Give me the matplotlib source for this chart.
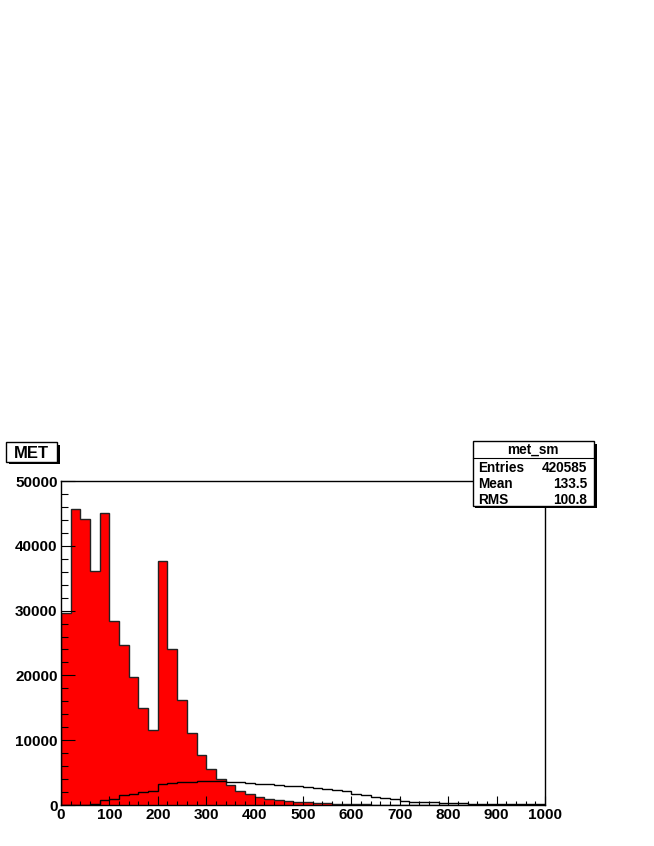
import numpy as np
import matplotlib
matplotlib.use('Agg')
import matplotlib.pyplot as plt
from matplotlib.patches import Rectangle

matplotlib.rcParams['font.family'] = ['Liberation Sans', 'DejaVu Sans']
matplotlib.rcParams['font.weight'] = 'bold'

# bin edges (20 GeV bins from 0 to 1000)
bin_edges = np.arange(0, 1001, 20)

# red filled histogram (met_sm)
met_sm = [29700, 45700, 44100, 36100, 45000, 28400, 24700, 19700, 14900, 11600,
          37600, 24100, 16200, 11100, 7700, 5500, 3950, 3100, 2200, 1650,
          1240, 930, 770, 620, 460, 400, 320, 270, 230, 200,
          170, 120, 70, 40, 30, 20, 15, 10, 8, 5,
          3, 2, 2, 1, 1, 1, 0, 0, 0, 0]

# hollow histogram drawn on top
met_other = [0, 0, 30, 80, 700, 980, 1500, 1750, 1960, 2170,
             3300, 3400, 3520, 3600, 3700, 3720, 3650, 3580, 3480, 3380,
             3280, 3180, 3080, 2970, 2860, 2740, 2600, 2450, 2300, 2150,
             1700, 1500, 1300, 1050, 850, 680, 530, 480, 410, 360,
             300, 260, 230, 200, 170, 150, 130, 110, 100, 90]

x_ticks = list(range(0, 1001, 100))
y_ticks = list(range(0, 50001, 10000))

hist_title = 'MET'
stats_name = 'met_sm'
stats_rows = [('Entries', '420585'), ('Mean', '133.5'), ('RMS', '100.8')]

W, H = 654, 846
fig = plt.figure(figsize=(W / 100, H / 100), dpi=100)
fig.patch.set_facecolor('white')

# main frame
ax = fig.add_axes([61 / W, 1 - 805 / H, 484 / W, 324 / H])
ax.stairs(met_sm, bin_edges, fill=True, facecolor='#ff0000', edgecolor='#222222', linewidth=1.0)
ax.stairs(met_other, bin_edges, color='black', linewidth=1.0)

ax.set_xlim(0, 1000)
ax.set_ylim(0, 50000)
ax.set_xticks(x_ticks)
ax.set_xticklabels([str(v) for v in x_ticks])
ax.set_xticks(list(range(0, 1001, 20)), minor=True)
ax.set_yticks(y_ticks)
ax.set_yticklabels([str(v) for v in y_ticks])
ax.set_yticks(list(range(0, 50001, 2000)), minor=True)

ax.tick_params(axis='x', which='major', direction='in', length=6.7, width=0.8, pad=2.5, labelsize=11)
ax.tick_params(axis='x', which='minor', direction='in', length=3.2, width=0.8)
ax.tick_params(axis='y', which='major', direction='in', length=10, width=0.8, pad=2.5, labelsize=11)
ax.tick_params(axis='y', which='minor', direction='in', length=5.2, width=0.8)
for lab in ax.get_xticklabels() + ax.get_yticklabels():
    lab.set_fontweight('bold')
for sp in ax.spines.values():
    sp.set_linewidth(1.0)
    sp.set_color('black')

# overlay in pixel coordinates for the title box and stats box
ov = fig.add_axes([0, 0, 1, 1], zorder=5)
ov.set_xlim(0, W)
ov.set_ylim(H, 0)
ov.axis('off')
ov.patch.set_alpha(0)

# title box
ov.add_patch(Rectangle((8.5, 445), 51, 19.5, facecolor='black', edgecolor='none'))
ov.add_patch(Rectangle((6, 442.5), 51, 19.5, facecolor='white', edgecolor='black', linewidth=1.0))
ov.text(31.5, 453, hist_title, ha='center', va='center', fontsize=12, fontweight='bold')

# stats box
bx, by, bw, bh = 472.5, 441.5, 121.5, 64.5
ov.add_patch(Rectangle((bx + 2.5, by + 2.5), bw, bh, facecolor='black', edgecolor='none'))
ov.add_patch(Rectangle((bx, by), bw, bh, facecolor='white', edgecolor='black', linewidth=1.0))
ov.plot([bx, bx + bw], [457.7, 457.7], color='black', linewidth=0.8)
ov.text(bx + bw / 2, 449.5, stats_name, ha='center', va='center', fontsize=9.8, fontweight='bold')
row_y = [467.5, 483.5, 499.5]
for (name, val), yy in zip(stats_rows, row_y):
    ov.text(478, yy, name, ha='left', va='center', fontsize=9.8, fontweight='bold')
    ov.text(587.5, yy, val, ha='right', va='center', fontsize=9.8, fontweight='bold')

fig.savefig('out.png', dpi=100)
